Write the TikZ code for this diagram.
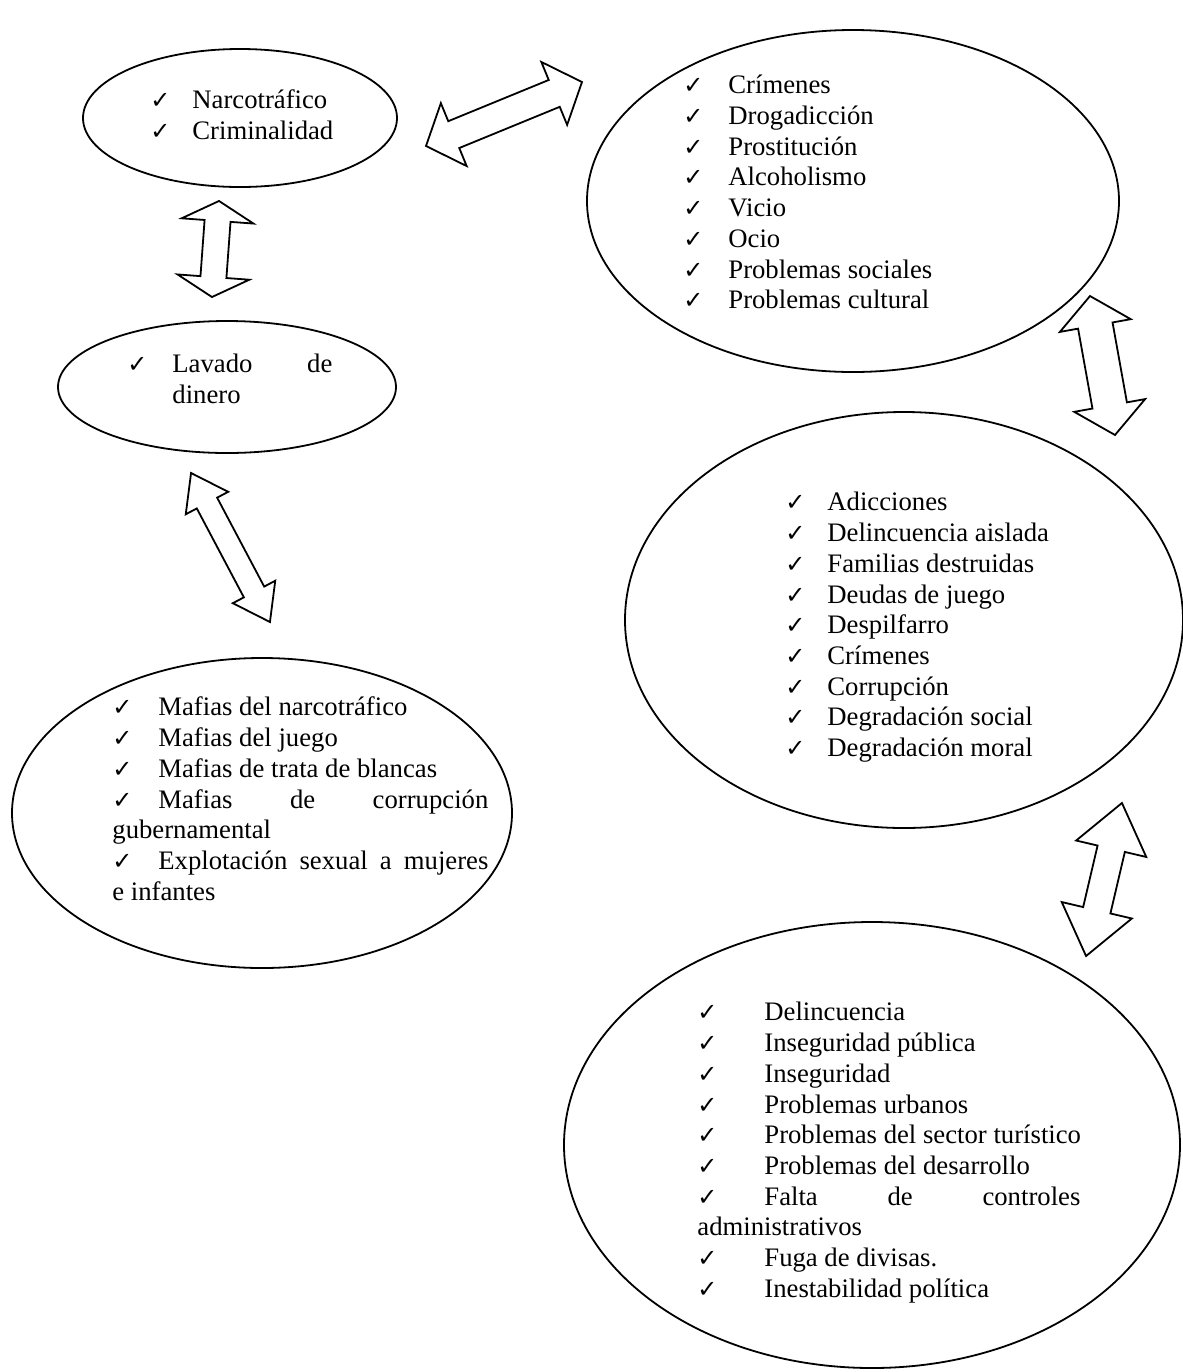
\documentclass[tikz,border=0pt]{standalone}
\usepackage{fontspec}
\setmainfont{Liberation Serif}
\newfontfamily\symfont{DejaVu Sans}
\usetikzlibrary{shapes.geometric}

\newcommand{\tick}[1][21pt]{\makebox[#1][l]{\symfont\fontsize{12}{12}\selectfont ✓}}
\newcommand{\fullline}[2]{\makebox[#1][l]{#2}}
\newcommand{\twowayarrow}[6]{%
\begin{scope}[shift={#1},rotate=#2]
\pgfmathsetmacro{\halflen}{#3/2}
\pgfmathsetmacro{\halfhead}{#4/2}
\pgfmathsetmacro{\halfshaft}{#5/2}
\pgfmathsetmacro{\barbpos}{#3/2-#6}
\draw[blockarrow] (-\halflen,0) -- (-\barbpos,\halfhead) -- (-\barbpos,\halfshaft) -- (\barbpos,\halfshaft) -- (\barbpos,\halfhead) -- (\halflen,0) -- (\barbpos,-\halfhead) -- (\barbpos,-\halfshaft) -- (-\barbpos,-\halfshaft) -- (-\barbpos,-\halfhead) -- cycle;
\end{scope}}

\tikzset{
bubble/.style={draw, ellipse, line width=0.9pt, inner sep=0},
listtext/.style={anchor=north west, inner sep=0, align=left, font=\fontsize{13.35}{15.35}\selectfont},
blockarrow/.style={draw, line width=0.9pt, line join=miter, fill=white}
}

\begin{document}
\begin{tikzpicture}[x=0.5pt,y=0.5pt]
\useasboundingbox (0,0) rectangle (1183,-1372);

\node[bubble, minimum width=157pt, minimum height=69pt] (narco) at (240,-118) {};
\node[bubble, minimum width=169pt, minimum height=66pt] (lavado) at (227,-387) {};
\node[bubble, minimum width=250pt, minimum height=155pt] (mafias) at (262,-813) {};
\node[bubble, minimum width=266pt, minimum height=171pt] (crimenes) at (853,-201) {};
\node[bubble, minimum width=279pt, minimum height=208pt] (adicciones) at (904,-620) {};
\node[bubble, minimum width=308pt, minimum height=223pt] (delincuencia) at (872,-1145) {};

\node[listtext] (narcotext) at (150,-87) {\strut\tick Narcotráfico\\\tick Criminalidad};
\node[listtext] (lavadotext) at (127,-351) {\strut\fullline{102.5pt}{\tick[22.5pt]Lavado\hfill de}\\\hspace*{22.5pt}dinero};
\node[listtext] (mafiastext) at (112,-694) {\strut\tick[23pt]Mafias del narcotráfico\\
\tick[23pt]Mafias del juego\\
\tick[23pt]Mafias de trata de blancas\\
\fullline{188pt}{\tick[23pt]Mafias\hfill de\hfill corrupción}\\
gubernamental\\
\fullline{188pt}{\tick[23pt]Explotación\hfill sexual\hfill a\hfill mujeres}\\
e infantes};
\node[listtext] (crimenestext) at (683,-72) {\strut\tick[22.5pt]Crímenes\\
\tick[22.5pt]Drogadicción\\
\tick[22.5pt]Prostitución\\
\tick[22.5pt]Alcoholismo\\
\tick[22.5pt]Vicio\\
\tick[22.5pt]Ocio\\
\tick[22.5pt]Problemas sociales\\
\tick[22.5pt]Problemas cultural};
\node[listtext] (adiccionestext) at (785,-489) {\strut\tick Adicciones\\
\tick Delincuencia aislada\\
\tick Familias destruidas\\
\tick Deudas de juego\\
\tick Despilfarro\\
\tick Crímenes\\
\tick Corrupción\\
\tick Degradación social\\
\tick Degradación moral};
\node[listtext] (delincuenciatext) at (697,-999) {\strut\tick[33.5pt]Delincuencia\\
\tick[33.5pt]Inseguridad pública\\
\tick[33.5pt]Inseguridad\\
\tick[33.5pt]Problemas urbanos\\
\tick[33.5pt]Problemas del sector turístico\\
\tick[33.5pt]Problemas del desarrollo\\
\fullline{191.5pt}{\tick[33.5pt]Falta\hfill de\hfill controles}\\
administrativos\\
\tick[33.5pt]Fuga de divisas.\\
\tick[33.5pt]Inestabilidad política};

\twowayarrow{(504,-114)}{22.3}{168.6}{68}{29}{30}
\twowayarrow{(215.5,-249)}{85.8}{96.3}{72}{26}{20}
\twowayarrow{(230.5,-547.5)}{117.9}{168.6}{48}{23}{34}
\twowayarrow{(1102.5,-365.5)}{100.2}{141.2}{72}{35}{30}
\twowayarrow{(1104,-879.5)}{76.8}{157.2}{72}{28}{47}
\end{tikzpicture}
\end{document}
